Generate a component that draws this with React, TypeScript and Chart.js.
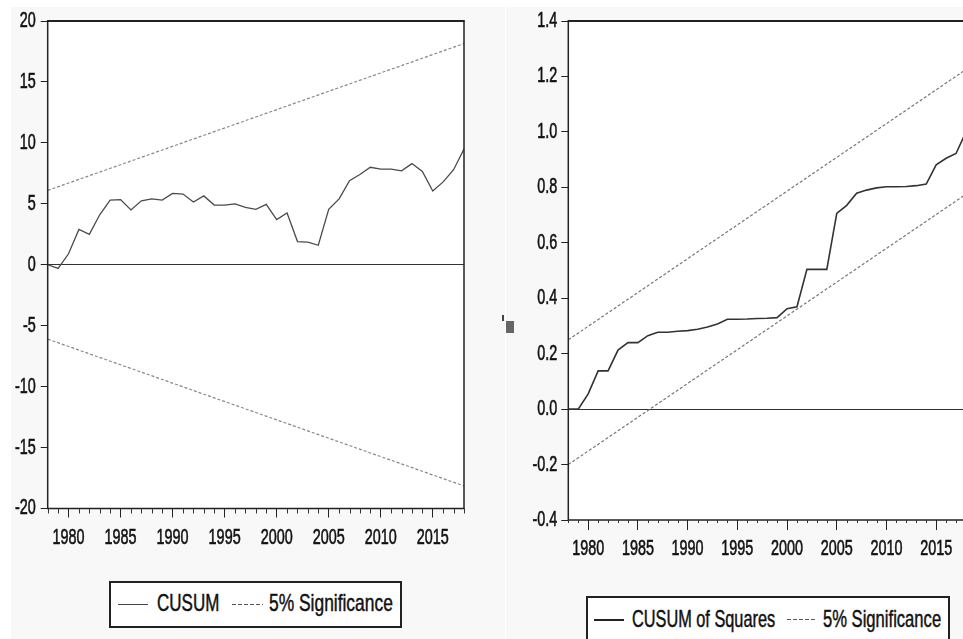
import React, { useEffect, useRef } from "react";
import { Chart, registerables } from "chart.js";

Chart.register(...registerables);

const years = [
  1978, 1979, 1980, 1981, 1982, 1983, 1984, 1985, 1986, 1987, 1988, 1989, 1990, 1991,
  1992, 1993, 1994, 1995, 1996, 1997, 1998, 1999, 2000, 2001, 2002, 2003, 2004, 2005,
  2006, 2007, 2008, 2009, 2010, 2011, 2012, 2013, 2014, 2015, 2016, 2017, 2018,
];
const cusum = [
  0, -0.3, 0.9, 2.9, 2.5, 4.1, 5.3, 5.35, 4.5, 5.25, 5.4, 5.3, 5.85, 5.8,
  5.15, 5.65, 4.9, 4.9, 5.0, 4.7, 4.55, 4.95, 3.7, 4.25, 1.9, 1.85, 1.6, 4.55,
  5.4, 6.9, 7.4, 8.0, 7.85, 7.85, 7.7, 8.3, 7.65, 6.05, 6.8, 7.8, 9.5,
];
const cusumSq = [
  0.0, 0.0, 0.055, 0.138, 0.138, 0.213, 0.24, 0.24, 0.265, 0.277, 0.277, 0.281, 0.283, 0.288,
  0.296, 0.307, 0.324, 0.324, 0.325, 0.327, 0.328, 0.33, 0.362, 0.369, 0.504, 0.504, 0.504, 0.706,
  0.735, 0.779, 0.79, 0.798, 0.802, 0.802, 0.803, 0.806, 0.812, 0.881, 0.905, 0.922, 1.0,
];
const bandYears = [1978, 2018];
const cusumUpper = [6.1, 18.15];
const cusumLower = [-6.1, -18.15];
const sqUpper = [0.25, 1.225];
const sqLower = [-0.2, 0.775];
const xLabelYears = [1980, 1985, 1990, 1995, 2000, 2005, 2010, 2015];

const FONT = "'Liberation Sans', Arial, sans-serif";
const TEXT_SX = 0.8;
const TEXT_SY = 1.2;

type Cfg = {
  solid: number[];
  solidLabel: string;
  upper: number[];
  lower: number[];
  yMin: number;
  yMax: number;
  yStep: number;
  yDec: number;
  solidColor: string;
  solidWidth: number;
  dashColor: string;
  yWidth: number;
  padding: { left: number; top: number; right: number; bottom: number };
  majorTick: number;
  minorTick: number;
  xPad: number;
  yPad: number;
  fontSize: number;
};

// draws axis text narrower and taller, like the condensed face of the original
const condensePlugin = {
  id: "condense",
  beforeDraw(chart: any) {
    const ctx: any = chart.ctx;
    if (ctx.__condensed) return;
    const wrap = (orig: any) => (text: string, x: number, y: number, maxWidth?: number) => {
      ctx.save();
      ctx.translate(x, y);
      ctx.scale(TEXT_SX, TEXT_SY);
      if (maxWidth === undefined) orig(text, 0, 0);
      else orig(text, 0, 0, maxWidth / TEXT_SX);
      ctx.restore();
    };
    ctx.fillText = wrap(ctx.fillText.bind(ctx));
    ctx.strokeText = wrap(ctx.strokeText.bind(ctx));
    ctx.__condensed = true;
  },
};

function makeChart(canvas: HTMLCanvasElement, cfg: Cfg) {
  const frame = {
    id: "frame",
    beforeDraw(chart: any) {
      const { ctx, chartArea: a } = chart;
      ctx.save();
      ctx.fillStyle = "#ffffff";
      ctx.fillRect(a.left, a.top, a.right - a.left, a.bottom - a.top);
      ctx.restore();
    },
    afterDraw(chart: any) {
      const { ctx, chartArea: a } = chart;
      ctx.save();
      ctx.strokeStyle = "#222";
      ctx.lineWidth = 1.5;
      ctx.beginPath();
      ctx.moveTo(a.left, a.top);
      ctx.lineTo(a.left, a.bottom);
      ctx.lineTo(a.right, a.bottom);
      ctx.lineTo(a.right, a.top);
      ctx.stroke();
      ctx.lineWidth = 2;
      ctx.beginPath();
      ctx.moveTo(a.left - 0.75, a.top);
      ctx.lineTo(a.right + 0.75, a.top);
      ctx.stroke();
      const xs = chart.scales.x;
      ctx.lineWidth = 1;
      ctx.strokeStyle = "#333";
      ctx.beginPath();
      years.forEach((v) => {
        if (xLabelYears.includes(v)) return;
        const px = Math.round(xs.getPixelForValue(v)) + 0.5;
        ctx.moveTo(px, a.bottom);
        ctx.lineTo(px, a.bottom + cfg.minorTick);
      });
      ctx.stroke();
      ctx.restore();
    },
  };

  const fmt = (v: any) => {
    const n = Number(v);
    return (Math.abs(n) < 1e-9 ? 0 : n).toFixed(cfg.yDec);
  };

  const tickFont = { family: FONT, size: cfg.fontSize };

  return new Chart(canvas, {
    type: "line",
    data: {
      datasets: [
        {
          label: cfg.solidLabel,
          data: years.map((y, i) => ({ x: y, y: cfg.solid[i] })),
          borderColor: cfg.solidColor,
          borderWidth: cfg.solidWidth,
          pointRadius: 0,
          fill: false,
          tension: 0,
        },
        {
          label: "5% Significance",
          data: bandYears.map((y, i) => ({ x: y, y: cfg.upper[i] })),
          borderColor: cfg.dashColor,
          borderWidth: 1.2,
          borderDash: [3, 2],
          pointRadius: 0,
          fill: false,
        },
        {
          label: "5% Significance (lower)",
          data: bandYears.map((y, i) => ({ x: y, y: cfg.lower[i] })),
          borderColor: cfg.dashColor,
          borderWidth: 1.2,
          borderDash: [3, 2],
          pointRadius: 0,
          fill: false,
        },
      ],
    },
    options: {
      responsive: false,
      animation: false,
      devicePixelRatio: 1,
      layout: { padding: cfg.padding },
      plugins: { legend: { display: false }, tooltip: { enabled: false } },
      scales: {
        x: {
          type: "linear",
          min: 1978,
          max: 2018,
          afterBuildTicks: (scale: any) => {
            scale.ticks = years.map((v) => ({ value: v }));
          },
          ticks: {
            autoSkip: false,
            maxRotation: 0,
            minRotation: 0,
            callback: (v: any) => (xLabelYears.includes(Number(v)) ? String(v) : ""),
            font: tickFont,
            color: "#111",
            textStrokeColor: "#111",
            textStrokeWidth: 0.5,
            padding: cfg.xPad,
          },
          grid: {
            drawOnChartArea: false,
            tickLength: cfg.majorTick,
            tickWidth: 1,
            tickColor: (c: any) =>
              c.tick && xLabelYears.includes(c.tick.value) ? "#222" : "rgba(0,0,0,0)",
          },
          border: { display: false },
          afterFit: (s: any) => {
            s.height = 40;
          },
        },
        y: {
          type: "linear",
          min: cfg.yMin,
          max: cfg.yMax,
          ticks: {
            stepSize: cfg.yStep,
            callback: fmt,
            font: tickFont,
            color: "#111",
            textStrokeColor: "#111",
            textStrokeWidth: 0.5,
            padding: cfg.yPad,
          },
          grid: {
            color: (c: any) =>
              c.tick && Math.abs(c.tick.value) < 1e-9 ? "#333" : "rgba(0,0,0,0)",
            lineWidth: 1,
            tickColor: "#222",
            tickLength: 7,
          },
          border: { display: false },
          afterFit: (s: any) => {
            s.width = cfg.yWidth;
          },
        },
      },
    },
    plugins: [condensePlugin, frame],
  } as any);
}

const legendText = (sx: number, sy: number): React.CSSProperties => ({
  position: "absolute",
  fontFamily: FONT,
  fontSize: 20,
  lineHeight: "20px",
  color: "#111",
  WebkitTextStroke: "0.4px #111",
  whiteSpace: "nowrap",
  transform: `scale(${sx}, ${sy})`,
  transformOrigin: "0px 17px",
});

export default function App() {
  const leftRef = useRef<HTMLCanvasElement>(null);
  const rightRef = useRef<HTMLCanvasElement>(null);

  useEffect(() => {
    const c1 = makeChart(leftRef.current!, {
      solid: cusum,
      solidLabel: "CUSUM",
      upper: cusumUpper,
      lower: cusumLower,
      yMin: -20,
      yMax: 20,
      yStep: 5,
      yDec: 0,
      solidColor: "#4a4a4a",
      solidWidth: 1.3,
      dashColor: "#888",
      yWidth: 47.7,
      padding: { left: 0, top: 21, right: 41, bottom: 90.5 },
      majorTick: 9,
      minorTick: 5,
      xPad: 10,
      yPad: 5,
      fontSize: 18,
    });
    const c2 = makeChart(rightRef.current!, {
      solid: cusumSq,
      solidLabel: "CUSUM of Squares",
      upper: sqUpper,
      lower: sqLower,
      yMin: -0.4,
      yMax: 1.4,
      yStep: 0.2,
      yDec: 1,
      solidColor: "#333",
      solidWidth: 1.6,
      dashColor: "#777",
      yWidth: 62.3,
      padding: { left: 0, top: 21, right: 20, bottom: 79 },
      majorTick: 10,
      minorTick: 3,
      xPad: 8,
      yPad: 4,
      fontSize: 18,
    });
    return () => {
      c1.destroy();
      c2.destroy();
    };
  }, []);

  const dashed: React.CSSProperties = {
    position: "absolute",
    height: 1,
    background: "repeating-linear-gradient(to right, #555 0 4px, transparent 4px 6px)",
  };

  return (
    <div
      style={{
        position: "fixed",
        left: 0,
        top: 0,
        width: 963,
        height: 639,
        overflow: "hidden",
        background: "#ffffff",
      }}
    >
      <div style={{ position: "absolute", left: 11, top: 7, width: 494, height: 632, background: "#f8f8f8" }} />
      <div style={{ position: "absolute", left: 506, top: 7, width: 457, height: 632, background: "#f8f8f8" }} />
      <canvas ref={leftRef} width={505} height={639} style={{ position: "absolute", left: 0, top: 0 }} />
      <canvas ref={rightRef} width={480} height={639} style={{ position: "absolute", left: 506, top: 0 }} />

      {/* artifact marks */}
      <div style={{ position: "absolute", left: 502, top: 315, width: 2, height: 6, background: "#444" }} />
      <div style={{ position: "absolute", left: 506, top: 321, width: 8, height: 12, background: "#666" }} />

      {/* left legend */}
      <div
        style={{
          position: "absolute",
          left: 109,
          top: 581,
          width: 293,
          height: 47,
          boxSizing: "border-box",
          border: "2px solid #222",
          background: "#fff",
        }}
      />
      <div style={{ position: "absolute", left: 118, top: 604, width: 30, height: 1, background: "#444" }} />
      <span style={{ ...legendText(0.85, 1.17), left: 157, top: 594 }}>CUSUM</span>
      <div style={{ ...dashed, left: 232, top: 604, width: 31 }} />
      <span style={{ ...legendText(0.87, 1.17), left: 269, top: 594 }}>5% Significance</span>

      {/* right legend */}
      <div
        style={{
          position: "absolute",
          left: 586,
          top: 596,
          width: 364,
          height: 60,
          boxSizing: "border-box",
          border: "2px solid #222",
          background: "#fff",
        }}
      />
      <div style={{ position: "absolute", left: 594, top: 619, width: 30, height: 2, background: "#222" }} />
      <span style={{ ...legendText(0.815, 1.2), left: 632, top: 610 }}>CUSUM of Squares</span>
      <div style={{ ...dashed, left: 787, top: 619, width: 28 }} />
      <span style={{ ...legendText(0.83, 1.2), left: 823, top: 610 }}>5% Significance</span>
    </div>
  );
}
